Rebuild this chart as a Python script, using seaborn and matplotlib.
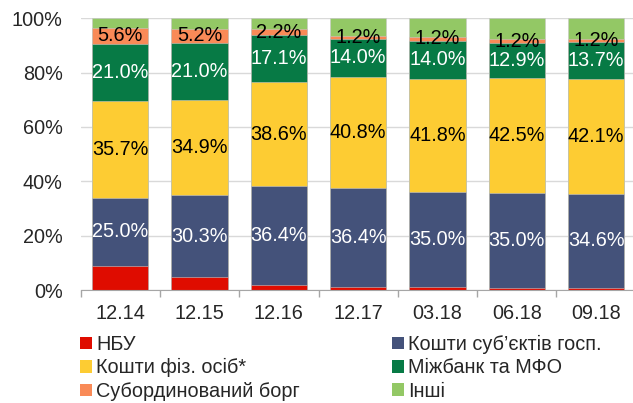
import numpy as np
import pandas as pd
import matplotlib
matplotlib.use('Agg')
import matplotlib.pyplot as plt
from matplotlib.patches import Patch
import seaborn as sns

periods = ['12.14', '12.15', '12.16', '12.17', '03.18', '06.18', '09.18']

nbu = [9.0, 4.7, 1.7, 1.2, 1.0, 0.6, 0.9]
corporates = [25.0, 30.3, 36.4, 36.4, 35.0, 35.0, 34.6]
households = [35.7, 34.9, 38.6, 40.8, 41.8, 42.5, 42.1]
interbank = [21.0, 21.0, 17.1, 14.0, 14.0, 12.9, 13.7]
subordinated = [5.6, 5.2, 2.2, 1.2, 1.2, 1.2, 1.2]
other = [3.7, 3.9, 4.0, 6.4, 7.0, 7.8, 7.5]

series_names = ['НБУ', 'Кошти суб’єктів госп.', 'Кошти фіз. осіб*',
                'Міжбанк та МФО', 'Субординований борг', 'Інші']
series_values = [nbu, corporates, households, interbank, subordinated, other]
colors = ['#DF0C00', '#44527A', '#FDCC33', '#077A45', '#F98A57', '#93C865']
label_colors = [None, 'white', 'black', 'white', 'black', None]

sns.set_style('white')
plt.rcParams['font.family'] = ['Liberation Sans', 'DejaVu Sans']

df = pd.DataFrame(dict(zip(series_names, series_values)), index=periods)
cum = df.cumsum(axis=1)

fig = plt.figure(figsize=(6.33, 4.03), dpi=100)
ax = fig.add_axes([80.7 / 633, 1 - 290 / 403, 555 / 633, 271.7 / 403])

# draw cumulative layers from top to bottom so the lower ones sit in front
for name, col in reversed(list(zip(series_names, colors))):
    sns.barplot(x=periods, y=cum[name].values, color=col, saturation=1,
                width=0.71, edgecolor='#c8c8c8', linewidth=0.4, ax=ax, zorder=2)

for i, p in enumerate(periods):
    for name, lc in zip(series_names, label_colors):
        if lc is None:
            continue
        mid = cum.loc[p, name] - df.loc[p, name] / 2
        ax.text(i, mid, f'{df.loc[p, name]:.1f}%', ha='center', va='center',
                color=lc, fontsize=14.3, zorder=3)

ax.set_ylim(0, 100)
ax.set_xlim(-0.5, len(periods) - 0.5)
ax.set_yticks(np.arange(0, 101, 20))
ax.set_yticklabels([f'{v}%' for v in range(0, 101, 20)])
ax.yaxis.grid(True, color='#d9d9d9', linewidth=1, zorder=0)
ax.set_axisbelow(True)
ax.set_xticks(np.arange(-0.5, len(periods), 1.0), minor=True)
ax.tick_params(axis='x', which='major', length=0, pad=10, labelsize=14.3)
ax.tick_params(axis='x', which='minor', length=5, color='#a6a6a6', width=1,
               direction='out', bottom=True)
ax.tick_params(axis='y', length=0, pad=13, labelsize=14.3)
for s in ['left', 'right', 'top']:
    ax.spines[s].set_visible(False)
ax.spines['bottom'].set_color('#a6a6a6')
ax.set_xlabel('')
ax.set_ylabel('')

handles = [Patch(facecolor=c, edgecolor='none') for c in colors]
order = [0, 2, 4, 1, 3, 5]
fig.legend([handles[k] for k in order], [series_names[k] for k in order],
           ncol=2, loc='upper left', bbox_to_anchor=(80 / 633, 1 - 335 / 403),
           frameon=False, fontsize=14.3, handlelength=0.6, handleheight=0.6,
           handletextpad=0.2, labelspacing=0.22, columnspacing=4.65,
           borderpad=0, borderaxespad=0)

fig.savefig('out.png', dpi=100)
